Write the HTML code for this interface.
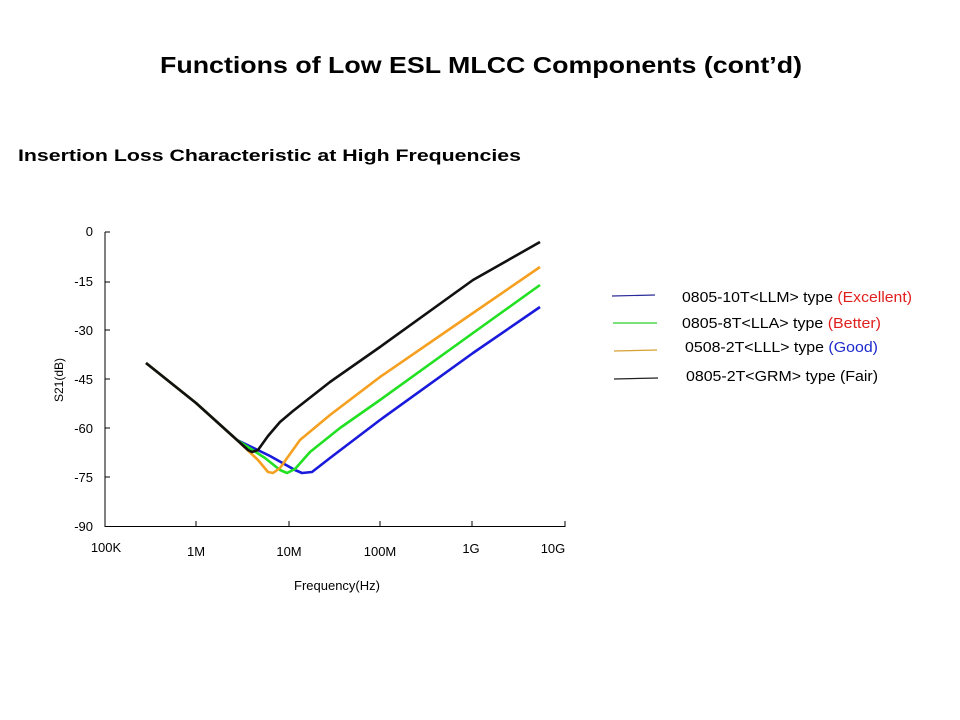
<!DOCTYPE html>
<html><head><meta charset="utf-8"><style>
html,body{margin:0;padding:0;background:#fff;width:960px;height:720px;overflow:hidden}
</style></head><body>
<svg width="960" height="720" viewBox="0 0 960 720" xmlns="http://www.w3.org/2000/svg" font-family="Liberation Sans, Arial, sans-serif">
<text x="160" y="73" font-size="23" font-weight="bold" textLength="642" lengthAdjust="spacingAndGlyphs">Functions of Low ESL MLCC Components (cont’d)</text>
<text x="18" y="161" font-size="17" font-weight="bold" textLength="503" lengthAdjust="spacingAndGlyphs">Insertion Loss Characteristic at High Frequencies</text>
<g stroke="#000" stroke-width="1">
<line x1="105" y1="232" x2="105" y2="527"/>
<line x1="105" y1="526.5" x2="565" y2="526.5"/>
<line x1="105" y1="232" x2="110" y2="232"/>
<line x1="105" y1="282" x2="110" y2="282"/>
<line x1="105" y1="330" x2="110" y2="330"/>
<line x1="105" y1="379" x2="110" y2="379"/>
<line x1="105" y1="428" x2="110" y2="428"/>
<line x1="105" y1="477" x2="110" y2="477"/>
<line x1="196" y1="521" x2="196" y2="527"/>
<line x1="289" y1="521" x2="289" y2="527"/>
<line x1="380" y1="521" x2="380" y2="527"/>
<line x1="472" y1="521" x2="472" y2="527"/>
<line x1="565" y1="521" x2="565" y2="527"/>
</g>
<g font-size="13" text-anchor="end">
<text x="93" y="236">0</text>
<text x="93" y="286">-15</text>
<text x="93" y="335">-30</text>
<text x="93" y="384">-45</text>
<text x="93" y="433">-60</text>
<text x="93" y="482">-75</text>
<text x="93" y="531">-90</text>
</g>
<g font-size="13" text-anchor="middle">
<text x="106" y="552">100K</text>
<text x="196" y="556">1M</text>
<text x="289" y="556">10M</text>
<text x="380" y="556">100M</text>
<text x="471" y="553">1G</text>
<text x="553" y="553">10G</text>
<text x="337" y="590">Frequency(Hz)</text>
</g>
<text x="0" y="0" font-size="12" transform="translate(63,380) rotate(-90)" text-anchor="middle">S21(dB)</text>
<g fill="none" stroke-width="2.6" stroke-linejoin="round">
<polyline stroke="#1a1adc" points="146,363 196,403 237,440 270,456 295,470 302,473 312,472 330,458 380,420 473,353 540,307"/>
<polyline stroke="#22e022" points="146,363 196,403 237,440 265,458 280,470 287,473 295,469 310,452 340,428 380,400 473,333 540,285"/>
<polyline stroke="#f5a020" points="146,363 196,403 237,440 258,460 268,472 273,473 280,468 300,440 330,415 380,377 473,313 540,267"/>
<polyline stroke="#111" points="146,363 196,403 237,440 248,450 252,452 258,450 268,436 280,422 293,411 330,382 380,347 473,280 540,242"/>
</g>
<g stroke-width="1.2">
<line x1="612" y1="296" x2="655" y2="295" stroke="#2a2a9a"/>
<line x1="613" y1="323" x2="657" y2="323" stroke="#2ad02a"/>
<line x1="614" y1="351" x2="657" y2="350" stroke="#d8a030"/>
<line x1="614" y1="379" x2="658" y2="378" stroke="#222"/>
</g>
<g font-size="14.3">
<text x="682" y="302" textLength="230" lengthAdjust="spacingAndGlyphs">0805-10T&lt;LLM&gt; type <tspan fill="#e0201e">(Excellent)</tspan></text>
<text x="682" y="328" textLength="199" lengthAdjust="spacingAndGlyphs">0805-8T&lt;LLA&gt; type <tspan fill="#e0201e">(Better)</tspan></text>
<text x="685" y="352" textLength="193" lengthAdjust="spacingAndGlyphs">0508-2T&lt;LLL&gt; type <tspan fill="#1e2acc">(Good)</tspan></text>
<text x="686" y="381" textLength="192" lengthAdjust="spacingAndGlyphs">0805-2T&lt;GRM&gt; type (Fair)</text>
</g>
</svg>
</body></html>
